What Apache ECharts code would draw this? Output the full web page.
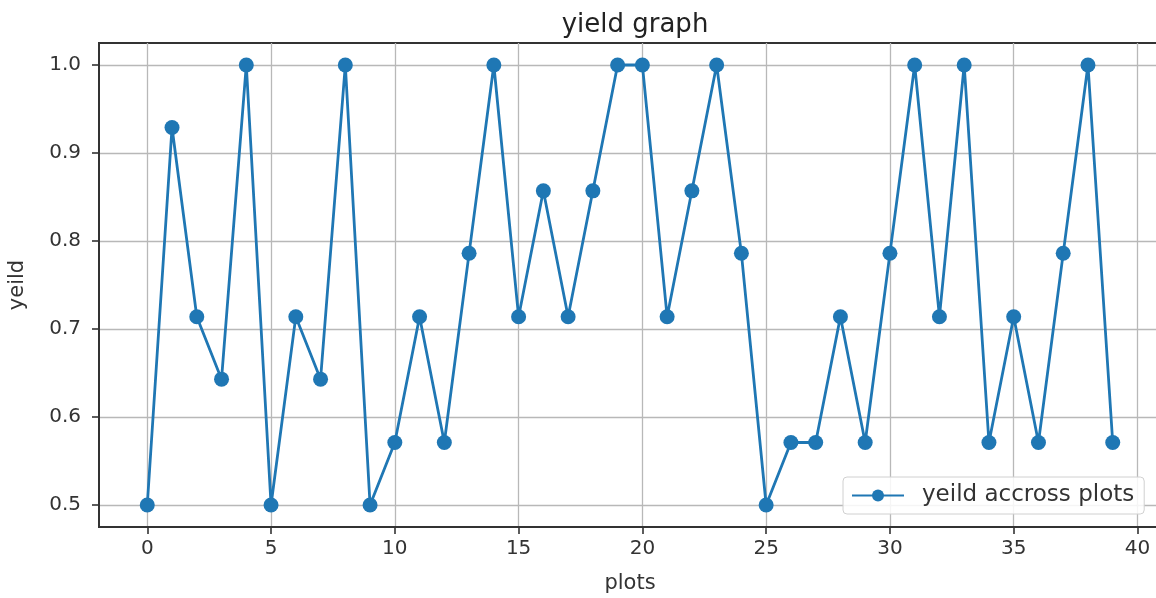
<!DOCTYPE html>
<html>
<head>
<meta charset="utf-8">
<script src="https://cdn.jsdelivr.net/npm/echarts@6/dist/echarts.min.js"></script>
<style>
  html, body { margin: 0; padding: 0; background: #fff; }
  #chart { width: 1156px; height: 598px; }
</style>
</head>
<body>
<div id="chart"></div>
<script>
// plot index 0..39
const plots = Array.from({length: 40}, (_, i) => i);
const yieldValues = [
  0.5, 0.929, 0.714, 0.643, 1.0, 0.5, 0.714, 0.643, 1.0, 0.5,
  0.571, 0.714, 0.571, 0.786, 1.0, 0.714, 0.857, 0.714, 0.857, 1.0,
  1.0, 0.714, 0.857, 1.0, 0.786, 0.5, 0.571, 0.571, 0.714, 0.571,
  0.786, 1.0, 0.714, 1.0, 0.571, 0.714, 0.571, 0.786, 1.0, 0.571
];
const xTicks = [0, 5, 10, 15, 20, 25, 30, 35, 40];
const yTicks = [0.5, 0.6, 0.7, 0.8, 0.9, 1.0];

const font = 'DejaVu Sans';
const blue = '#1f77b4';
const ink = '#333';

const chart = echarts.init(document.getElementById('chart'));

chart.setOption({
  animation: false,
  title: {
    text: 'yield graph',
    left: 630,
    textAlign: 'center',
    top: 7,
    textStyle: { fontFamily: font, fontSize: 26, fontWeight: 'normal', color: '#222' }
  },
  legend: {
    data: ['yeild accross plots'],
    left: 843,
    top: 477,
    padding: [7, 10, 7, 8],
    itemWidth: 52,
    itemHeight: 15,
    borderColor: '#d0d0d0',
    borderWidth: 1,
    borderRadius: 4,
    backgroundColor: 'rgba(255,255,255,0.85)',
    textStyle: { fontFamily: font, fontSize: 23, color: ink, padding: [0, 0, 0, 13] }
  },
  grid: {
    left: 99,
    top: 43,
    width: 1062,
    bottom: 71,
    outerBoundsMode: 'none',
    containLabel: false,
    show: true,
    borderColor: ink,
    borderWidth: 2
  },
  xAxis: {
    type: 'value',
    min: -1.95,
    max: 40.95,
    minInterval: 5,
    maxInterval: 5,
    name: 'plots',
    nameLocation: 'middle',
    nameGap: 46,
    nameTextStyle: { fontFamily: font, fontSize: 21, color: ink },
    axisLine: { show: true, onZero: false, lineStyle: { color: ink, width: 2 } },
    axisTick: {
      show: true, length: 7, customValues: xTicks,
      lineStyle: { color: ink, width: 1.6 }
    },
    axisLabel: {
      customValues: xTicks,
      margin: 12,
      fontFamily: font, fontSize: 20, color: ink
    },
    splitLine: { show: true, lineStyle: { color: '#b8b8b8', width: 1.3 } }
  },
  yAxis: {
    type: 'value',
    min: 0.475,
    max: 1.025,
    minInterval: 0.1,
    maxInterval: 0.1,
    name: 'yeild',
    nameLocation: 'middle',
    nameGap: 71,
    nameRotate: 90,
    nameTextStyle: { fontFamily: font, fontSize: 21, color: ink },
    axisLine: { show: true, onZero: false, lineStyle: { color: ink, width: 2 } },
    axisTick: {
      show: true, length: 7, customValues: yTicks,
      lineStyle: { color: ink, width: 1.6 }
    },
    axisLabel: {
      customValues: yTicks,
      margin: 18,
      formatter: v => v.toFixed(1),
      fontFamily: font, fontSize: 20, color: ink
    },
    splitLine: { show: true, lineStyle: { color: '#b8b8b8', width: 1.3 } }
  },
  series: [
    {
      name: 'yeild accross plots',
      type: 'line',
      data: plots.map((p, i) => [p, yieldValues[i]]),
      symbol: 'circle',
      symbolSize: 15,
      showAllSymbol: true,
      itemStyle: { color: blue },
      lineStyle: { color: blue, width: 2.8 }
    }
  ]
});
</script>
</body>
</html>
